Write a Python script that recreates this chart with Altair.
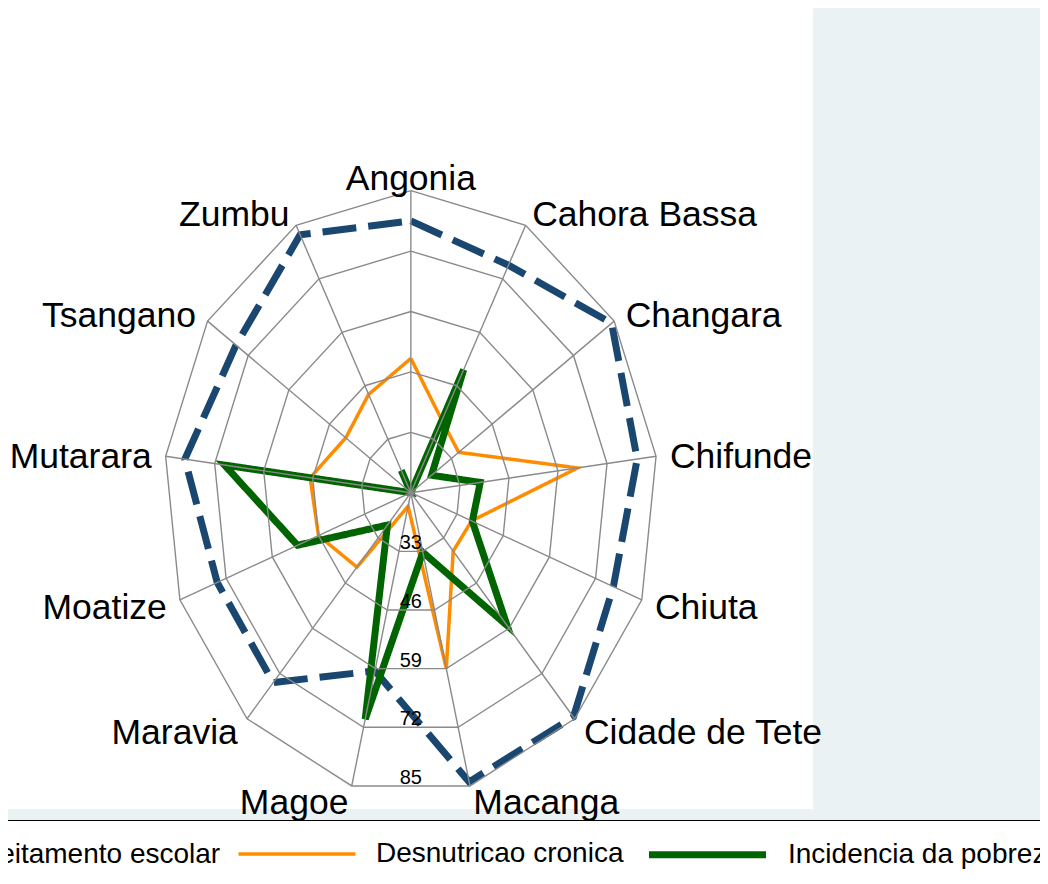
import altair as alt
import pandas as pd

# ---------------- data ----------------
districts = ["Angonia", "Cahora Bassa", "Changara", "Chifunde", "Chiuta",
             "Cidade de Tete", "Macanga", "Magoe", "Maravia", "Moatize",
             "Mutarara", "Tsangano", "Zumbu"]
aproveitamento = [78.5, 75.3, 84.2, 80.0, 77.0, 84.5, 84.1, 59.5, 74.6, 74.5, 79.9, 75.9, 82.7]
desnutricao = [48.9, 37.6, 35.3, 64.2, 37.1, 36.8, 59.0, 23.0, 41.4, 46.0, 46.7, 40.8, 43.9]
pobreza = [20.0, 49.9, 26.6, 38.4, 37.3, 58.2, 33.2, 70.2, 29.3, 51.9, 69.4, 20.0, 25.4]
series_names = ["Aproveitamento escolar", "Desnutricao cronica", "Incidencia da pobreza"]
series_colors = ["#1a476f", "#ff8c00", "#006400"]
ring_labels = [33, 46, 59, 72, 85]
r_min, r_max = 20, 85

N = len(districts)

rows = []
for s, vals in zip(series_names, [aproveitamento, desnutricao, pobreza]):
    for i in range(N + 1):
        rows.append({"series": s, "district": districts[i % N], "idx": i, "value": vals[i % N]})
lines_df = pd.DataFrame(rows)

spokes_df = pd.DataFrame({"district": districts, "idx": list(range(N))})

ring_rows = []
for rv in ring_labels:
    for i in range(N + 1):
        ring_rows.append({"ring": rv, "idx": i})
rings_df = pd.DataFrame(ring_rows)
ringlab_df = pd.DataFrame({"ring": ring_labels, "label": [str(v) for v in ring_labels]})

# ---------------- scales ----------------
W, H = 805, 801
xs = alt.Scale(domain=[-1.63097, 1.62814], nice=False, zero=False)
ys = alt.Scale(domain=[-1.04735, 1.60497], nice=False, zero=False)
ANG = f"datum.idx * 2 * PI / {N}"
RNG = f"(datum.value - {r_min}) / {r_max - r_min}"
FONT = "Liberation Sans"

# data polygons
data_lines = alt.Chart(lines_df).transform_calculate(
    ang=ANG, r=RNG
).transform_calculate(
    px="datum.r * sin(datum.ang)", py="datum.r * cos(datum.ang)"
).mark_line(strokeJoin="miter", strokeCap="butt").encode(
    x=alt.X("px:Q", scale=xs, axis=None),
    y=alt.Y("py:Q", scale=ys, axis=None),
    order=alt.Order("idx:Q"),
    color=alt.Color("series:N", scale=alt.Scale(domain=series_names, range=series_colors),
                    legend=alt.Legend(title=None)),
    strokeDash=alt.StrokeDash("series:N", scale=alt.Scale(domain=series_names,
                                                          range=[[34, 12], [1, 0], [1, 0]]),
                              legend=alt.Legend(title=None)),
    strokeWidth=alt.StrokeWidth("series:N", scale=alt.Scale(type="ordinal", domain=series_names,
                                                            range=[7, 3.5, 7]),
                                legend=alt.Legend(title=None)),
)

# rings
rings = alt.Chart(rings_df).transform_calculate(
    ang=ANG, r=f"(datum.ring - {r_min}) / {r_max - r_min}"
).transform_calculate(
    px="datum.r * sin(datum.ang)", py="datum.r * cos(datum.ang)"
).mark_line(color="#8a8a8a", strokeWidth=1.4).encode(
    x=alt.X("px:Q", scale=xs, axis=None),
    y=alt.Y("py:Q", scale=ys, axis=None),
    detail="ring:N",
    order=alt.Order("idx:Q"),
)

# spokes
spokes = alt.Chart(spokes_df).transform_calculate(
    ang=ANG
).transform_calculate(
    x0="0", y0="0", x1="sin(datum.ang)", y1="cos(datum.ang)"
).mark_rule(color="#8a8a8a", strokeWidth=1.4).encode(
    x=alt.X("x0:Q", scale=xs, axis=None),
    y=alt.Y("y0:Q", scale=ys, axis=None),
    x2="x1:Q", y2="y1:Q",
)

# spoke labels
lab_base = alt.Chart(spokes_df).transform_calculate(
    ang=ANG
).transform_calculate(
    s="sin(datum.ang)", c="cos(datum.ang)"
).transform_calculate(
    lx="datum.s * (1 + 14 / 247)", ly="datum.c * (1 + 15 / 302) - 3 / 302"
)


def spoke_text(filt, align):
    return lab_base.transform_filter(filt).mark_text(
        align=align, baseline="middle", font=FONT, fontSize=35.5, color="black"
    ).encode(
        x=alt.X("lx:Q", scale=xs, axis=None),
        y=alt.Y("ly:Q", scale=ys, axis=None),
        text="district:N",
    )


lab_right = spoke_text("datum.s > 0.05", "left")
lab_left = spoke_text("datum.s < -0.05", "right")
lab_top = spoke_text("abs(datum.s) <= 0.05", "center")

# ring labels
ring_text = alt.Chart(ringlab_df).transform_calculate(
    x0="0", y0=f"-((datum.ring - {r_min}) / {r_max - r_min}) * cos(PI / {N})"
).mark_text(align="center", baseline="alphabetic", dy=-2, font=FONT, fontSize=20,
            color="black").encode(
    x=alt.X("x0:Q", scale=xs, axis=None),
    y=alt.Y("y0:Q", scale=ys, axis=None),
    text="label:N",
)

chart = alt.layer(
    data_lines, rings, spokes, lab_right, lab_left, lab_top, ring_text
).properties(
    width=W, height=H,
    autosize=alt.AutoSizeParams(type="none"),
    padding={"left": 0, "top": 0, "right": 227, "bottom": 67},
    background="#eaf2f3",
).configure_view(
    fill="white", stroke=None
).configure_legend(
    orient="none", legendX=-197, legendY=812, direction="horizontal",
    padding=19, fillColor="white", strokeColor="black",
    labelFont=FONT, labelFontSize=28, labelColor="black", labelLimit=2000,
    labelOffset=65, columnPadding=10, symbolSize=548, symbolType="M-5,0H5",
)

chart.save("out.html", embed_options={"renderer": "svg", "actions": False})
